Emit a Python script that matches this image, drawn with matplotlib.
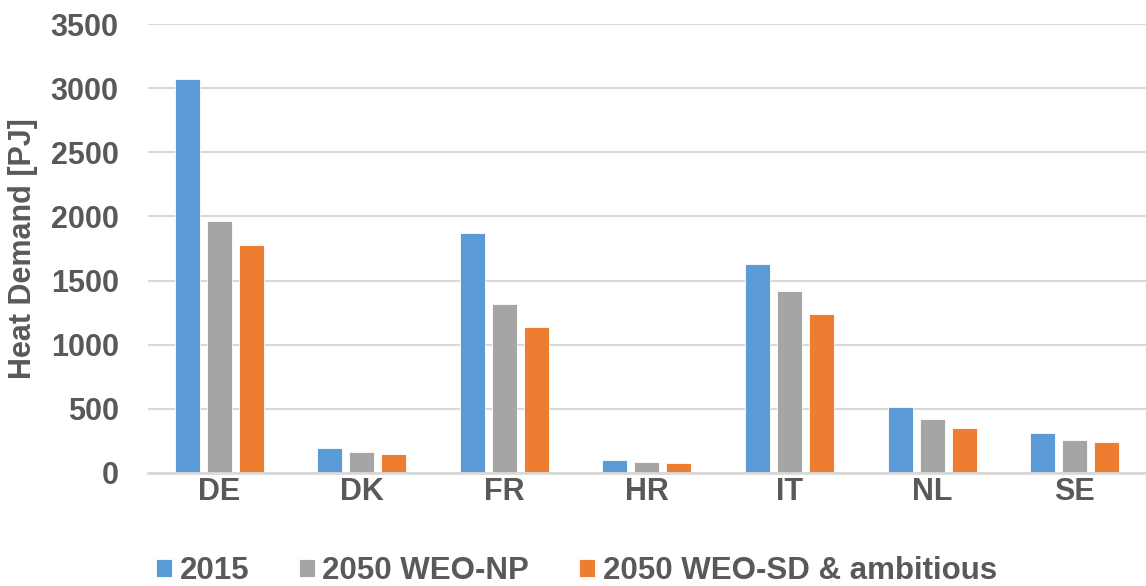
import numpy as np
import matplotlib.pyplot as plt

plt.rcParams['font.family'] = ['Liberation Sans', 'DejaVu Sans']

# Daten
laender = ['DE', 'DK', 'FR', 'HR', 'IT', 'NL', 'SE']
werte_2015 = [3070, 195, 1868, 101, 1626, 516, 314]
werte_np = [1965, 160, 1320, 88, 1416, 423, 259]
werte_sd = [1774, 150, 1136, 75, 1237, 347, 240]
serien = ['2015', '2050 WEO-NP', '2050 WEO-SD & ambitious']
farben = ['#5b9bd5', '#a5a5a5', '#ed7d31']
grau = '#595959'

fig = plt.figure(figsize=(11.46, 5.86), dpi=100)
ax = fig.add_axes([0.129, 0.193, 0.871, 0.766])

x = np.arange(len(laender))
breite = 0.175
abstand = 0.224
for i, (werte, name, farbe) in enumerate(zip([werte_2015, werte_np, werte_sd], serien, farben)):
    ax.bar(x + (i - 1) * abstand, werte, breite, color=farbe, label=name,
           edgecolor='white', linewidth=0.6, zorder=3)

ax.set_xlim(-0.5, len(laender) - 0.5)
ax.set_ylim(0, 3500)
ax.set_yticks(np.arange(0, 3501, 500))
ax.set_xticks(x)
ax.set_xticklabels(laender)
ax.yaxis.grid(True, color='#d9d9d9', linewidth=1.5, zorder=0)
for s in ['top', 'right', 'left']:
    ax.spines[s].set_visible(False)
ax.spines['bottom'].set_color('#d9d9d9')
ax.spines['bottom'].set_linewidth(2)
ax.spines['bottom'].set_zorder(4)
ax.tick_params(axis='both', length=0, labelsize=22, labelcolor=grau)
ax.tick_params(axis='x', pad=3)
ax.tick_params(axis='y', pad=21)
for lbl in ax.get_xticklabels() + ax.get_yticklabels():
    lbl.set_fontweight('bold')

ax.set_ylabel('Heat Demand [PJ]', fontsize=22, fontweight='bold', color=grau, labelpad=9)

leg = fig.legend(loc='center left', bbox_to_anchor=(156 / 1146, 1 - 571 / 586), ncol=3, frameon=False,
                 borderpad=0, borderaxespad=0,
                 handlelength=0.5, handleheight=0.5, handletextpad=0.25, columnspacing=1.6,
                 prop={'size': 22.5, 'weight': 'bold'})
for t in leg.get_texts():
    t.set_color(grau)

fig.savefig('out.png', dpi=100)
